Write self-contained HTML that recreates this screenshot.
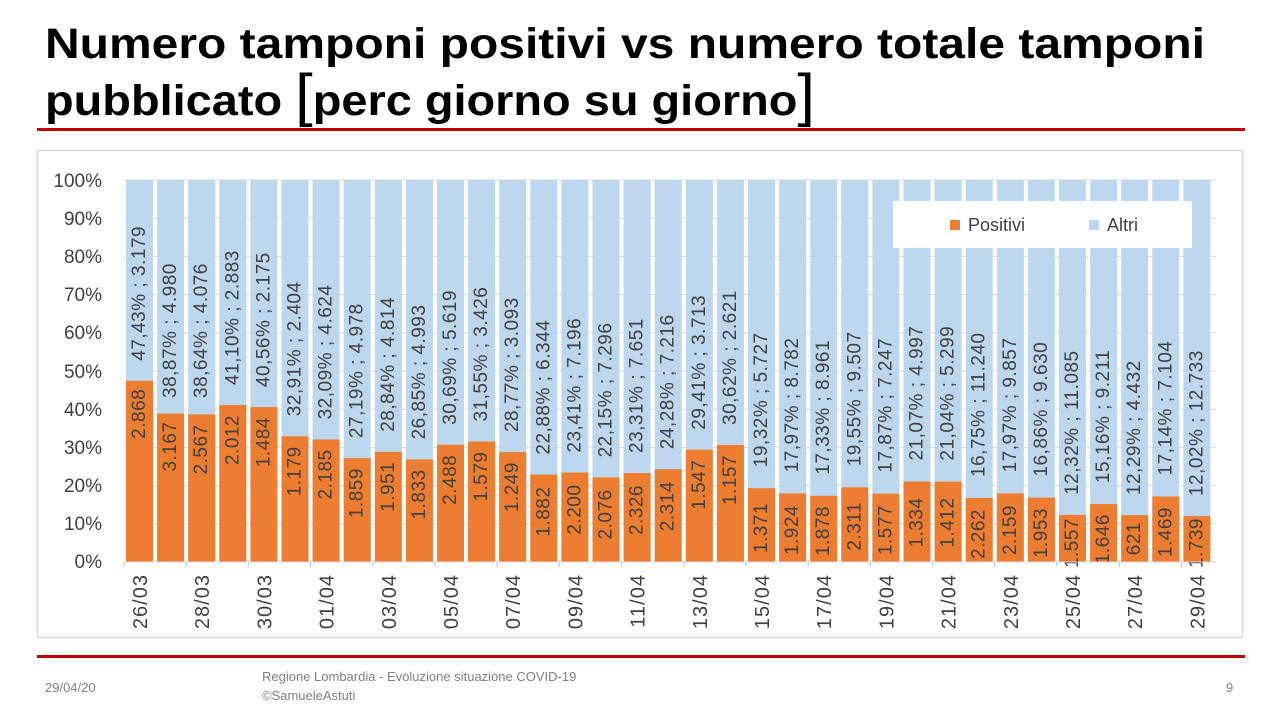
<!DOCTYPE html>
<html><head><meta charset="utf-8"><style>
html,body{margin:0;padding:0;background:#fff;}
svg{display:block;}
text{font-family:"Liberation Sans",sans-serif;}
.u{font-size:19px;fill:#404040;text-anchor:start;dominant-baseline:central;letter-spacing:0.5px;}
.d{font-size:19px;fill:#404040;text-anchor:end;dominant-baseline:central;letter-spacing:0.5px;}
.ax{font-size:20px;fill:#404040;letter-spacing:1px;}
</style></head><body>
<svg width="1280" height="720" viewBox="0 0 1280 720" xmlns="http://www.w3.org/2000/svg">
<rect width="1280" height="720" fill="#fff"/>
<text x="45" y="58" font-size="43" font-weight="bold" fill="#000" textLength="1160" lengthAdjust="spacingAndGlyphs">Numero tamponi positivi vs numero totale tamponi</text>
<text x="45" y="115" font-size="43" font-weight="bold" fill="#000" textLength="770" lengthAdjust="spacingAndGlyphs">pubblicato <tspan font-size="58" font-weight="normal">[</tspan>perc giorno su giorno<tspan font-size="58" font-weight="normal">]</tspan></text>
<rect x="37" y="128" width="1208" height="3" fill="#C00000"/>
<rect x="37.5" y="150.5" width="1205" height="487" fill="#fff" stroke="#d9d9d9" stroke-width="1.5"/>
<g stroke="#d9d9d9" stroke-width="1">
<line x1="124" x2="1216" y1="180" y2="180"/><line x1="124" x2="1216" y1="218.2" y2="218.2"/><line x1="124" x2="1216" y1="256.4" y2="256.4"/><line x1="124" x2="1216" y1="294.6" y2="294.6"/><line x1="124" x2="1216" y1="332.8" y2="332.8"/><line x1="124" x2="1216" y1="371" y2="371"/><line x1="124" x2="1216" y1="409.2" y2="409.2"/><line x1="124" x2="1216" y1="447.4" y2="447.4"/><line x1="124" x2="1216" y1="485.6" y2="485.6"/><line x1="124" x2="1216" y1="523.8" y2="523.8"/><line x1="124" x2="1216" y1="562" y2="562"/>
</g>
<g font-size="19" fill="#404040" text-anchor="end">
<text x="102" y="187">100%</text><text x="102" y="225">90%</text><text x="102" y="263">80%</text><text x="102" y="301">70%</text><text x="102" y="339">60%</text><text x="102" y="378">50%</text><text x="102" y="416">40%</text><text x="102" y="454">30%</text><text x="102" y="492">20%</text><text x="102" y="530">10%</text><text x="102" y="568">0%</text>
</g>
<g>
<g transform="translate(139.5 0)"><rect x="-13.5" y="180" width="27" height="382" fill="#BDD7EE"/><rect x="-13.5" y="380.8" width="27" height="181.2" fill="#ED7D31"/><text class="u" transform="translate(0 360.8) rotate(-90)">47,43% ; 3.179</text><text class="d" transform="translate(0 388.8) rotate(-90)">2.868</text></g>
<g transform="translate(170.6 0)"><rect x="-13.5" y="180" width="27" height="382" fill="#BDD7EE"/><rect x="-13.5" y="413.5" width="27" height="148.5" fill="#ED7D31"/><text class="u" transform="translate(0 398) rotate(-90)">38,87% ; 4.980</text><text class="d" transform="translate(0 421.5) rotate(-90)">3.167</text></g>
<g transform="translate(201.7 0)"><rect x="-13.5" y="180" width="27" height="382" fill="#BDD7EE"/><rect x="-13.5" y="414.4" width="27" height="147.6" fill="#ED7D31"/><text class="u" transform="translate(0 398) rotate(-90)">38,64% ; 4.076</text><text class="d" transform="translate(0 424.4) rotate(-90)">2.567</text></g>
<g transform="translate(232.8 0)"><rect x="-13.5" y="180" width="27" height="382" fill="#BDD7EE"/><rect x="-13.5" y="405" width="27" height="157" fill="#ED7D31"/><text class="u" transform="translate(0 385) rotate(-90)">41,10% ; 2.883</text><text class="d" transform="translate(0 415) rotate(-90)">2.012</text></g>
<g transform="translate(263.9 0)"><rect x="-13.5" y="180" width="27" height="382" fill="#BDD7EE"/><rect x="-13.5" y="407.1" width="27" height="154.9" fill="#ED7D31"/><text class="u" transform="translate(0 387.1) rotate(-90)">40,56% ; 2.175</text><text class="d" transform="translate(0 417.1) rotate(-90)">1.484</text></g>
<g transform="translate(295 0)"><rect x="-13.5" y="180" width="27" height="382" fill="#BDD7EE"/><rect x="-13.5" y="436.3" width="27" height="125.7" fill="#ED7D31"/><text class="u" transform="translate(0 416.3) rotate(-90)">32,91% ; 2.404</text><text class="d" transform="translate(0 446.3) rotate(-90)">1.179</text></g>
<g transform="translate(326.1 0)"><rect x="-13.5" y="180" width="27" height="382" fill="#BDD7EE"/><rect x="-13.5" y="439.4" width="27" height="122.6" fill="#ED7D31"/><text class="u" transform="translate(0 419.4) rotate(-90)">32,09% ; 4.624</text><text class="d" transform="translate(0 449.4) rotate(-90)">2.185</text></g>
<g transform="translate(357.2 0)"><rect x="-13.5" y="180" width="27" height="382" fill="#BDD7EE"/><rect x="-13.5" y="458.1" width="27" height="103.9" fill="#ED7D31"/><text class="u" transform="translate(0 438.1) rotate(-90)">27,19% ; 4.978</text><text class="d" transform="translate(0 468.1) rotate(-90)">1.859</text></g>
<g transform="translate(388.3 0)"><rect x="-13.5" y="180" width="27" height="382" fill="#BDD7EE"/><rect x="-13.5" y="451.8" width="27" height="110.2" fill="#ED7D31"/><text class="u" transform="translate(0 431.8) rotate(-90)">28,84% ; 4.814</text><text class="d" transform="translate(0 461.8) rotate(-90)">1.951</text></g>
<g transform="translate(419.4 0)"><rect x="-13.5" y="180" width="27" height="382" fill="#BDD7EE"/><rect x="-13.5" y="459.4" width="27" height="102.6" fill="#ED7D31"/><text class="u" transform="translate(0 439.4) rotate(-90)">26,85% ; 4.993</text><text class="d" transform="translate(0 469.4) rotate(-90)">1.833</text></g>
<g transform="translate(450.5 0)"><rect x="-13.5" y="180" width="27" height="382" fill="#BDD7EE"/><rect x="-13.5" y="444.8" width="27" height="117.2" fill="#ED7D31"/><text class="u" transform="translate(0 424.8) rotate(-90)">30,69% ; 5.619</text><text class="d" transform="translate(0 454.8) rotate(-90)">2.488</text></g>
<g transform="translate(481.6 0)"><rect x="-13.5" y="180" width="27" height="382" fill="#BDD7EE"/><rect x="-13.5" y="441.5" width="27" height="120.5" fill="#ED7D31"/><text class="u" transform="translate(0 421.5) rotate(-90)">31,55% ; 3.426</text><text class="d" transform="translate(0 451.5) rotate(-90)">1.579</text></g>
<g transform="translate(512.7 0)"><rect x="-13.5" y="180" width="27" height="382" fill="#BDD7EE"/><rect x="-13.5" y="452.1" width="27" height="109.9" fill="#ED7D31"/><text class="u" transform="translate(0 432.1) rotate(-90)">28,77% ; 3.093</text><text class="d" transform="translate(0 462.1) rotate(-90)">1.249</text></g>
<g transform="translate(543.8 0)"><rect x="-13.5" y="180" width="27" height="382" fill="#BDD7EE"/><rect x="-13.5" y="474.6" width="27" height="87.4" fill="#ED7D31"/><text class="u" transform="translate(0 454.6) rotate(-90)">22,88% ; 6.344</text><text class="d" transform="translate(0 486.6) rotate(-90)">1.882</text></g>
<g transform="translate(574.9 0)"><rect x="-13.5" y="180" width="27" height="382" fill="#BDD7EE"/><rect x="-13.5" y="472.6" width="27" height="89.4" fill="#ED7D31"/><text class="u" transform="translate(0 452.6) rotate(-90)">23,41% ; 7.196</text><text class="d" transform="translate(0 484.6) rotate(-90)">2.200</text></g>
<g transform="translate(606 0)"><rect x="-13.5" y="180" width="27" height="382" fill="#BDD7EE"/><rect x="-13.5" y="477.4" width="27" height="84.6" fill="#ED7D31"/><text class="u" transform="translate(0 457.4) rotate(-90)">22,15% ; 7.296</text><text class="d" transform="translate(0 489.4) rotate(-90)">2.076</text></g>
<g transform="translate(637.1 0)"><rect x="-13.5" y="180" width="27" height="382" fill="#BDD7EE"/><rect x="-13.5" y="473" width="27" height="89" fill="#ED7D31"/><text class="u" transform="translate(0 453) rotate(-90)">23,31% ; 7.651</text><text class="d" transform="translate(0 485) rotate(-90)">2.326</text></g>
<g transform="translate(668.2 0)"><rect x="-13.5" y="180" width="27" height="382" fill="#BDD7EE"/><rect x="-13.5" y="469.2" width="27" height="92.8" fill="#ED7D31"/><text class="u" transform="translate(0 449.2) rotate(-90)">24,28% ; 7.216</text><text class="d" transform="translate(0 481.2) rotate(-90)">2.314</text></g>
<g transform="translate(699.3 0)"><rect x="-13.5" y="180" width="27" height="382" fill="#BDD7EE"/><rect x="-13.5" y="449.7" width="27" height="112.3" fill="#ED7D31"/><text class="u" transform="translate(0 429.7) rotate(-90)">29,41% ; 3.713</text><text class="d" transform="translate(0 459.7) rotate(-90)">1.547</text></g>
<g transform="translate(730.4 0)"><rect x="-13.5" y="180" width="27" height="382" fill="#BDD7EE"/><rect x="-13.5" y="445" width="27" height="117" fill="#ED7D31"/><text class="u" transform="translate(0 425) rotate(-90)">30,62% ; 2.621</text><text class="d" transform="translate(0 455) rotate(-90)">1.157</text></g>
<g transform="translate(761.5 0)"><rect x="-13.5" y="180" width="27" height="382" fill="#BDD7EE"/><rect x="-13.5" y="488.2" width="27" height="73.8" fill="#ED7D31"/><text class="u" transform="translate(0 467.2) rotate(-90)">19,32% ; 5.727</text><text class="d" transform="translate(0 503) rotate(-90)">1.371</text></g>
<g transform="translate(792.6 0)"><rect x="-13.5" y="180" width="27" height="382" fill="#BDD7EE"/><rect x="-13.5" y="493.4" width="27" height="68.6" fill="#ED7D31"/><text class="u" transform="translate(0 472.4) rotate(-90)">17,97% ; 8.782</text><text class="d" transform="translate(0 505) rotate(-90)">1.924</text></g>
<g transform="translate(823.7 0)"><rect x="-13.5" y="180" width="27" height="382" fill="#BDD7EE"/><rect x="-13.5" y="495.8" width="27" height="66.2" fill="#ED7D31"/><text class="u" transform="translate(0 474.8) rotate(-90)">17,33% ; 8.961</text><text class="d" transform="translate(0 506) rotate(-90)">1.878</text></g>
<g transform="translate(854.8 0)"><rect x="-13.5" y="180" width="27" height="382" fill="#BDD7EE"/><rect x="-13.5" y="487.3" width="27" height="74.7" fill="#ED7D31"/><text class="u" transform="translate(0 466.3) rotate(-90)">19,55% ; 9.507</text><text class="d" transform="translate(0 502) rotate(-90)">2.311</text></g>
<g transform="translate(885.9 0)"><rect x="-13.5" y="180" width="27" height="382" fill="#BDD7EE"/><rect x="-13.5" y="493.7" width="27" height="68.3" fill="#ED7D31"/><text class="u" transform="translate(0 472.7) rotate(-90)">17,87% ; 7.247</text><text class="d" transform="translate(0 505) rotate(-90)">1.577</text></g>
<g transform="translate(917 0)"><rect x="-13.5" y="180" width="27" height="382" fill="#BDD7EE"/><rect x="-13.5" y="481.5" width="27" height="80.5" fill="#ED7D31"/><text class="u" transform="translate(0 460.5) rotate(-90)">21,07% ; 4.997</text><text class="d" transform="translate(0 497.5) rotate(-90)">1.334</text></g>
<g transform="translate(948.1 0)"><rect x="-13.5" y="180" width="27" height="382" fill="#BDD7EE"/><rect x="-13.5" y="481.6" width="27" height="80.4" fill="#ED7D31"/><text class="u" transform="translate(0 460.6) rotate(-90)">21,04% ; 5.299</text><text class="d" transform="translate(0 497.6) rotate(-90)">1.412</text></g>
<g transform="translate(979.2 0)"><rect x="-13.5" y="180" width="27" height="382" fill="#BDD7EE"/><rect x="-13.5" y="498" width="27" height="64" fill="#ED7D31"/><text class="u" transform="translate(0 477) rotate(-90)">16,75% ; 11.240</text><text class="d" transform="translate(0 509) rotate(-90)">2.262</text></g>
<g transform="translate(1010.3 0)"><rect x="-13.5" y="180" width="27" height="382" fill="#BDD7EE"/><rect x="-13.5" y="493.4" width="27" height="68.6" fill="#ED7D31"/><text class="u" transform="translate(0 472.4) rotate(-90)">17,97% ; 9.857</text><text class="d" transform="translate(0 505) rotate(-90)">2.159</text></g>
<g transform="translate(1041.4 0)"><rect x="-13.5" y="180" width="27" height="382" fill="#BDD7EE"/><rect x="-13.5" y="497.6" width="27" height="64.4" fill="#ED7D31"/><text class="u" transform="translate(0 476.6) rotate(-90)">16,86% ; 9.630</text><text class="d" transform="translate(0 508) rotate(-90)">1.953</text></g>
<g transform="translate(1072.5 0)"><rect x="-13.5" y="180" width="27" height="382" fill="#BDD7EE"/><rect x="-13.5" y="514.9" width="27" height="47.1" fill="#ED7D31"/><text class="u" transform="translate(0 494.9) rotate(-90)">12,32% ; 11.085</text><text class="d" transform="translate(0 518) rotate(-90)">1.557</text></g>
<g transform="translate(1103.6 0)"><rect x="-13.5" y="180" width="27" height="382" fill="#BDD7EE"/><rect x="-13.5" y="504.1" width="27" height="57.9" fill="#ED7D31"/><text class="u" transform="translate(0 483.1) rotate(-90)">15,16% ; 9.211</text><text class="d" transform="translate(0 514) rotate(-90)">1.646</text></g>
<g transform="translate(1134.7 0)"><rect x="-13.5" y="180" width="27" height="382" fill="#BDD7EE"/><rect x="-13.5" y="515.1" width="27" height="46.9" fill="#ED7D31"/><text class="u" transform="translate(0 495.1) rotate(-90)">12,29% ; 4.432</text><text class="d" transform="translate(0 522) rotate(-90)">621</text></g>
<g transform="translate(1165.8 0)"><rect x="-13.5" y="180" width="27" height="382" fill="#BDD7EE"/><rect x="-13.5" y="496.5" width="27" height="65.5" fill="#ED7D31"/><text class="u" transform="translate(0 475.5) rotate(-90)">17,14% ; 7.104</text><text class="d" transform="translate(0 507) rotate(-90)">1.469</text></g>
<g transform="translate(1196.9 0)"><rect x="-13.5" y="180" width="27" height="382" fill="#BDD7EE"/><rect x="-13.5" y="516.1" width="27" height="45.9" fill="#ED7D31"/><text class="u" transform="translate(0 496.1) rotate(-90)">12,02% ; 12.733</text><text class="d" transform="translate(0 518) rotate(-90)">1.739</text></g>
</g>
<line x1="124" x2="1216" y1="562" y2="562" stroke="#d9d9d9"/>
<g stroke="#bfbfbf">
<line x1="124" x2="124" y1="562" y2="567"/><line x1="186.2" x2="186.2" y1="562" y2="567"/><line x1="248.4" x2="248.4" y1="562" y2="567"/><line x1="310.6" x2="310.6" y1="562" y2="567"/><line x1="372.8" x2="372.8" y1="562" y2="567"/><line x1="435" x2="435" y1="562" y2="567"/><line x1="497.2" x2="497.2" y1="562" y2="567"/><line x1="559.4" x2="559.4" y1="562" y2="567"/><line x1="621.6" x2="621.6" y1="562" y2="567"/><line x1="683.8" x2="683.8" y1="562" y2="567"/><line x1="746" x2="746" y1="562" y2="567"/><line x1="808.2" x2="808.2" y1="562" y2="567"/><line x1="870.4" x2="870.4" y1="562" y2="567"/><line x1="932.6" x2="932.6" y1="562" y2="567"/><line x1="994.8" x2="994.8" y1="562" y2="567"/><line x1="1057" x2="1057" y1="562" y2="567"/><line x1="1119.2" x2="1119.2" y1="562" y2="567"/><line x1="1181.4" x2="1181.4" y1="562" y2="567"/>
</g>
<g class="ax" text-anchor="end">
<text transform="translate(147 574) rotate(-90)">26/03</text>
<text transform="translate(209.2 574) rotate(-90)">28/03</text>
<text transform="translate(271.4 574) rotate(-90)">30/03</text>
<text transform="translate(333.6 574) rotate(-90)">01/04</text>
<text transform="translate(395.8 574) rotate(-90)">03/04</text>
<text transform="translate(458 574) rotate(-90)">05/04</text>
<text transform="translate(520.2 574) rotate(-90)">07/04</text>
<text transform="translate(582.4 574) rotate(-90)">09/04</text>
<text transform="translate(644.6 574) rotate(-90)">11/04</text>
<text transform="translate(706.8 574) rotate(-90)">13/04</text>
<text transform="translate(769 574) rotate(-90)">15/04</text>
<text transform="translate(831.2 574) rotate(-90)">17/04</text>
<text transform="translate(893.4 574) rotate(-90)">19/04</text>
<text transform="translate(955.6 574) rotate(-90)">21/04</text>
<text transform="translate(1017.8 574) rotate(-90)">23/04</text>
<text transform="translate(1080 574) rotate(-90)">25/04</text>
<text transform="translate(1142.2 574) rotate(-90)">27/04</text>
<text transform="translate(1204.4 574) rotate(-90)">29/04</text>
</g>
<rect x="893" y="201" width="299" height="47" fill="#fff"/>
<rect x="950" y="220" width="10" height="10" fill="#ED7D31"/>
<text x="968" y="231" font-size="18" fill="#404040">Positivi</text>
<rect x="1089" y="220" width="10" height="10" fill="#BDD7EE"/>
<text x="1107" y="231" font-size="18" fill="#404040">Altri</text>
<rect x="37" y="655" width="1208" height="3" fill="#C00000"/>
<text x="45" y="692" font-size="13" fill="#7f7f7f">29/04/20</text>
<text x="262" y="681" font-size="13" fill="#7f7f7f">Regione Lombardia - Evoluzione situazione COVID-19</text>
<text x="262" y="700" font-size="13" fill="#7f7f7f">©SamueleAstuti</text>
<text x="1226" y="692" font-size="13" fill="#7f7f7f">9</text>
</svg>
</body></html>
